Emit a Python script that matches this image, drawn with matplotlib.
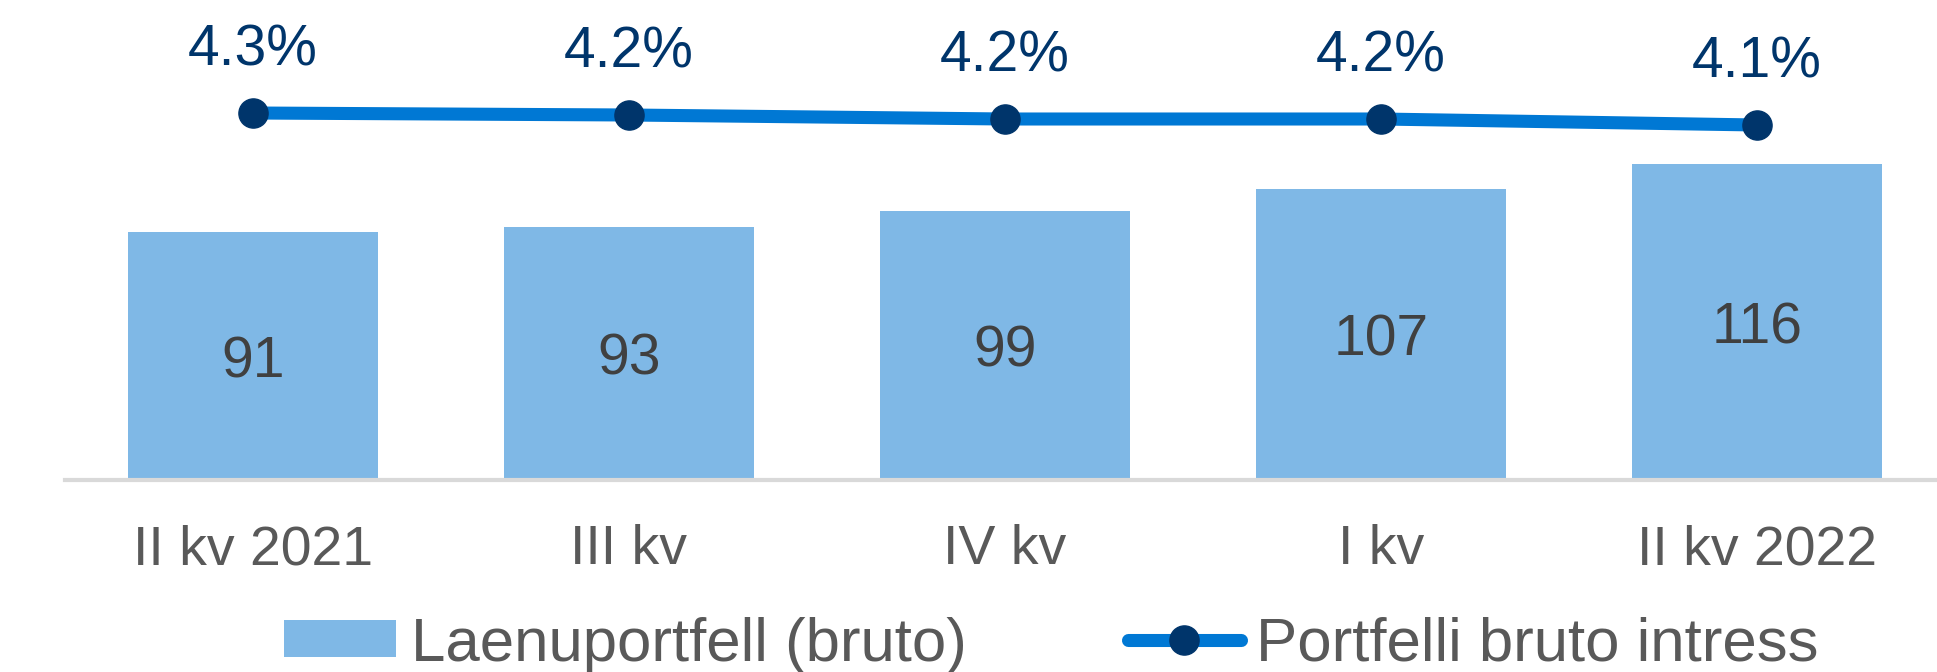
import matplotlib
matplotlib.use("Agg")
import matplotlib.pyplot as plt
from matplotlib.lines import Line2D
from matplotlib.patches import Patch

categories = ["II kv 2021", "III kv", "IV kv", "I kv", "II kv 2022"]
portfolio = [91, 93, 99, 107, 116]
interest = [4.26, 4.24, 4.20, 4.20, 4.14]
interest_labels = ["4.3%", "4.2%", "4.2%", "4.2%", "4.1%"]

plt.rcParams['font.family'] = ['Liberation Sans', 'DejaVu Sans']

W, H = 1937, 672
fig = plt.figure(figsize=(W / 100, H / 100), dpi=100)
left = 65 / W
width = 1880 / W
bottom = (H - 480) / H
height = 480 / H
ax = fig.add_axes([left, bottom, width, height])

bar_color = "#7FB8E6"
line_color = "#0078D4"
marker_color = "#00356B"
text_gray = "#595959"

x = list(range(len(categories)))
bars = ax.bar(x, portfolio, width=0.665, color=bar_color, zorder=2)
for xi, v in zip(x, portfolio):
    ax.annotate(str(v), (xi, v / 2), xytext=(0, -4.5), textcoords="offset points",
                ha="center", va="center", fontsize=41, color="#404040", zorder=3)

ax.set_xlim(-0.5, 4.5)
ax.set_ylim(0, 480 / 2.72)
for s in ["top", "right", "left"]:
    ax.spines[s].set_visible(False)
ax.spines["bottom"].set_color("#D9D9D9")
ax.spines["bottom"].set_linewidth(3)
ax.set_yticks([])
ax.set_xticks(x)
ax.set_xticklabels(categories, fontsize=40, color=text_gray)
ax.tick_params(axis="x", length=0, pad=32)

ax2 = ax.twinx()
ax2.set_ylim(0.59, 5.39)
ax2.axis("off")
ax2.plot(x, interest, color=line_color, linewidth=9.4, marker="o", markersize=21,
         markerfacecolor=marker_color, markeredgecolor=marker_color, zorder=4,
         solid_capstyle="round")
for xi, v, lab in zip(x, interest, interest_labels):
    ax2.annotate(lab, (xi, v), xytext=(0, 45), textcoords="offset points",
                 ha="center", va="center", fontsize=41, color=marker_color)

handles = [Patch(facecolor=bar_color, edgecolor="none"),
           Line2D([0], [0], color=line_color, linewidth=9.4, marker="o", markersize=21,
                  markerfacecolor=marker_color, markeredgecolor=marker_color,
                  solid_capstyle="round")]
leg = fig.legend(handles, ["Laenuportfell (bruto)", "Portfelli bruto intress"],
                 loc="center", bbox_to_anchor=(1051 / W, 1 - 645 / H), ncol=2,
                 frameon=False, fontsize=44.5, handlelength=1.82, handleheight=0.55,
                 handletextpad=0.25, columnspacing=2.6, borderpad=0, borderaxespad=0)
for t in leg.get_texts():
    t.set_color(text_gray)

fig.savefig("out.png", dpi=100)
